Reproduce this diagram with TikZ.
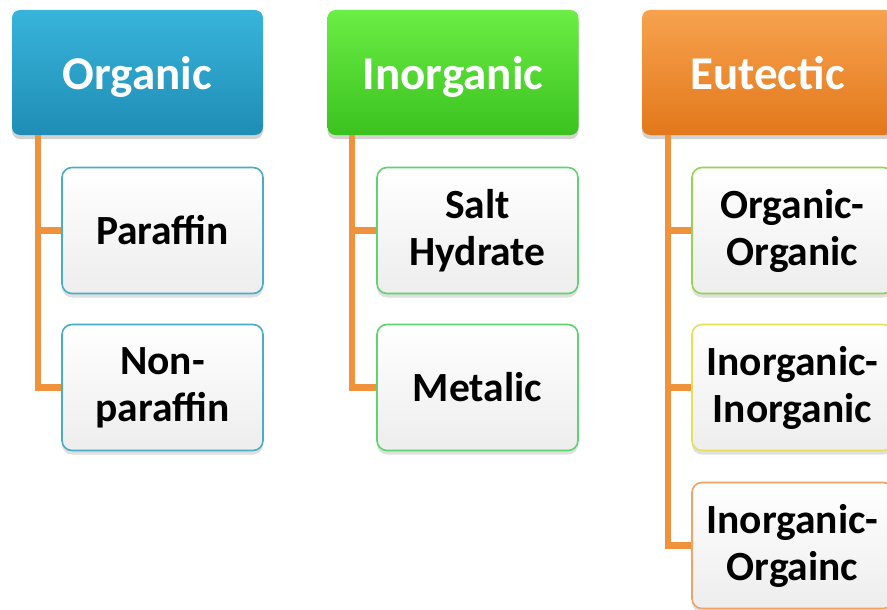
\documentclass[tikz,border=0pt]{standalone}
\usepackage{fontspec}
\setmainfont{Carlito}
\usetikzlibrary{shadows}
\definecolor{orgTop}{HTML}{38B4DB}
\definecolor{orgBot}{HTML}{1F8DB5}
\definecolor{inoTop}{HTML}{6BEE45}
\definecolor{inoBot}{HTML}{3BC21F}
\definecolor{eutTop}{HTML}{F7A24E}
\definecolor{eutBot}{HTML}{E2781B}
\definecolor{connC}{HTML}{F0913C}
\definecolor{bTeal}{HTML}{4BACC6}
\definecolor{bGreen}{HTML}{5FD46E}
\definecolor{bLime}{HTML}{94D454}
\definecolor{bYellow}{HTML}{E4E05A}
\definecolor{bOrange}{HTML}{F2A265}
\tikzset{
  header/.style={rectangle, rounded corners=8pt, minimum width=251pt, minimum height=125pt,
    inner sep=0pt, text=white, text height=45pt, text depth=10pt,
    font=\bfseries\fontsize{47}{52}\selectfont,
    drop shadow={opacity=0.35, shadow xshift=0pt, shadow yshift=-4pt}},
  child/.style={rectangle, rounded corners=10pt, minimum width=201pt, minimum height=126pt,
    inner sep=0pt, line width=1.6pt, top color=white, bottom color=black!7, align=center,
    font=\bfseries\fontsize{41.5}{47}\selectfont,
    drop shadow={opacity=0.25, shadow xshift=0pt, shadow yshift=-4pt}},
  conn/.style={draw=connC, line width=6.5pt, line join=miter}
}
\begin{document}
\begin{tikzpicture}[x=1pt,y=-1pt]
\useasboundingbox (0,0) rectangle (887,610);
\clip (0,0) rectangle (887,610);
\fill[white] (0,0) rectangle (887,610);
% headers
\node[header, top color=orgTop, bottom color=orgBot] (h1) at (137.5,72.5) {Organic};
\node[header, top color=inoTop, bottom color=inoBot] (h2) at (453,72.5) {Inorganic};
\node[header, top color=eutTop, bottom color=eutBot] (h3) at (767.5,72.5) {Eutectic};
% connector anchors
\coordinate (v1) at (38,135);
\coordinate (v2) at (352,135);
\coordinate (v3) at (668,135);
% children
\node[child, draw=bTeal] (c11) at (162.5,230.5) {Paraffin};
\node[child, draw=bTeal] (c12) at (162.5,387.5) {Non-\\paraffin};
\node[child, draw=bGreen] (c21) at (477.5,230.5) {Salt\\Hydrate};
\node[child, draw=bGreen] (c22) at (477.5,387.5) {Metalic};
\node[child, draw=bLime] (c31) at (792.5,230.5) {Organic-\\Organic};
\node[child, draw=bYellow] (c32) at (792.5,387.5) {Inorganic-\\Inorganic};
\node[child, draw=bOrange] (c33) at (792.5,545.5) {Inorganic-\\Orgainc};
% connectors
\draw[conn] (v1) |- (c12.west);
\draw[conn] (c11.west) -- (c11.west -| v1);
\draw[conn] (v2) |- (c22.west);
\draw[conn] (c21.west) -- (c21.west -| v2);
\draw[conn] (v3) |- (c33.west);
\draw[conn] (c31.west) -- (c31.west -| v3);
\draw[conn] (c32.west) -- (c32.west -| v3);
\end{tikzpicture}
\end{document}
